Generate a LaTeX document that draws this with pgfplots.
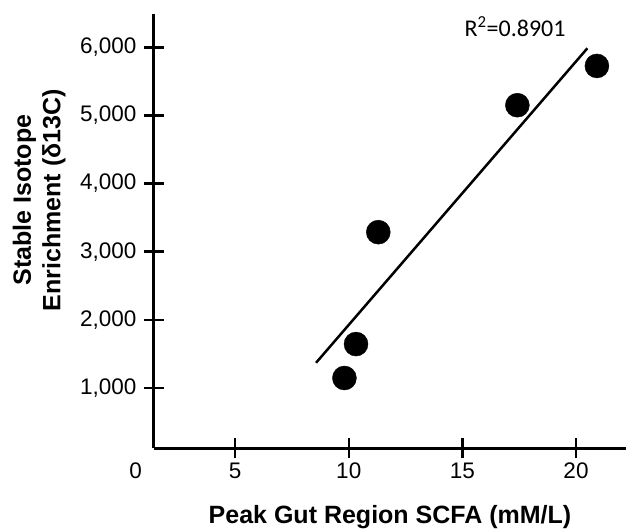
\documentclass[border=0pt]{standalone}
\usepackage{fontspec}
\setmainfont{Liberation Sans}
\newfontfamily\calibri{Carlito}
\usepackage{pgfplots}
\pgfplotsset{compat=1.18}

\begin{document}
\begin{tikzpicture}
\begin{axis}[
  scale only axis,
  width=472bp, height=434bp,
  xmin=1.43, xmax=22.2,
  ymin=120, ymax=6488,
  axis x line=bottom, axis y line=left,
  axis line style={-, line width=3bp},
  every outer x axis line/.append style={-},
  every outer y axis line/.append style={-},
  xtick={5,10,15,20}, ytick={1000,2000,3000,4000,5000,6000},
  tick align=center,
  major tick length=20bp,
  major tick style={line width=2.5bp, black},
  /pgf/number format/assume math mode=true,
  /pgf/number format/1000 sep={,},
  tick label style={font=\fontsize{22.5bp}{26bp}\selectfont},
  xticklabel style={yshift=-1bp},
  yticklabel style={xshift=-4bp},
  xlabel={Peak Gut Region SCFA (mM/L)},
  ylabel={Stable Isotope\\Enrichment (δ13C)},
  label style={font=\bfseries\fontsize{25bp}{29.5bp}\selectfont, align=center},
  xlabel style={at={(axis description cs:0.5,0)}, anchor=north, inner sep=0pt, yshift=-57bp},
  ylabel style={at={(axis description cs:-0.187,0.571)}, anchor=south, inner sep=0pt},
  clip=false,
]
\addplot[only marks, mark=*, mark size=12bp, black]
  coordinates {(9.81,1147) (10.32,1645) (11.30,3287) (17.42,5150) (20.92,5726)};
\addplot[black, line width=2.5bp]
  coordinates {(8.56,1370) (20.5,5985)};
\node[anchor=base, font=\calibri\fontsize{24bp}{28bp}\selectfont]
  at (axis cs:17.32,6151) {R\textsuperscript{2}=0.8901};
\node[anchor=north east, inner sep=0pt, font=\fontsize{22.5bp}{26bp}\selectfont]
  at (rel axis cs:0,0) [xshift=-12bp, yshift=-15bp] {0};
\coordinate (bl) at (rel axis cs:0,0);
\coordinate (tr) at (rel axis cs:1,1);
\end{axis}
\pgfresetboundingbox
\path[use as bounding box] ([xshift=-154bp,yshift=-82bp]bl) rectangle ([yshift=14bp]tr);
\end{tikzpicture}
\end{document}
